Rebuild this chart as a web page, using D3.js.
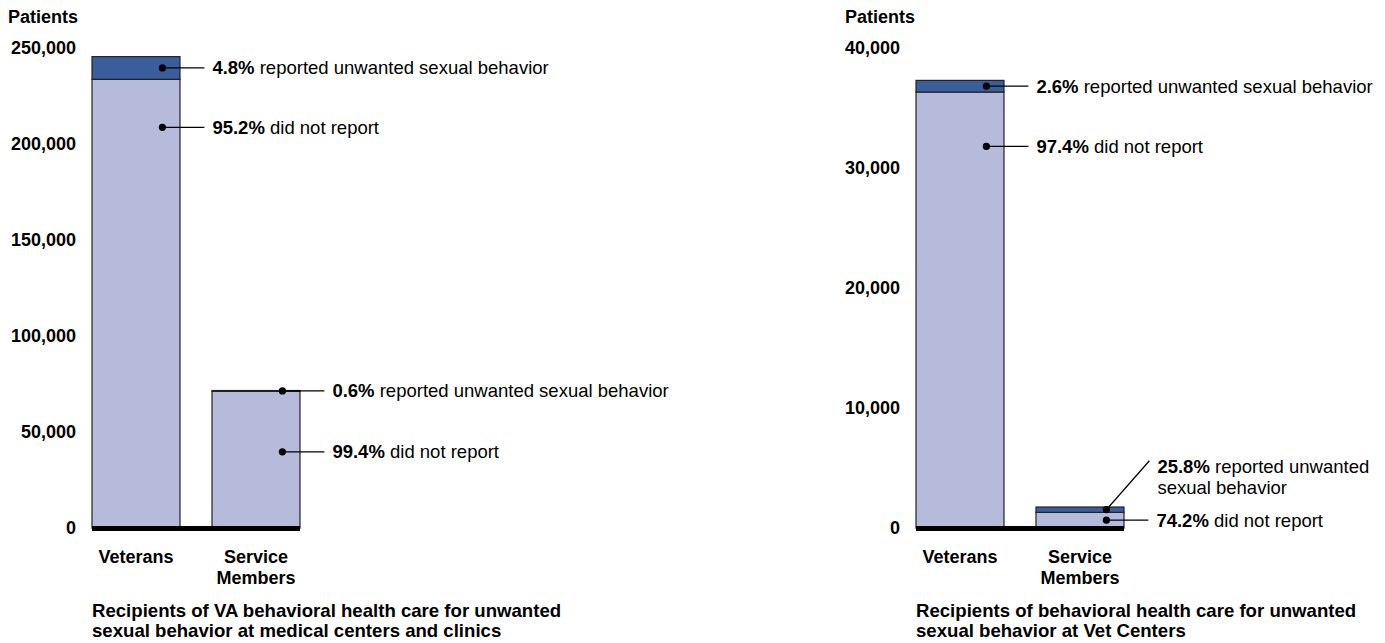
<!DOCTYPE html>
<html>
<head>
<meta charset="utf-8">
<script src="https://cdn.jsdelivr.net/npm/d3@7"></script>
<style>
  body { margin: 0; background: #fff; }
  text { font-family: Arial, "Liberation Sans", sans-serif; fill: #000; }
</style>
</head>
<body>
<script>
// categories shared by both panels
const categories = ["Veterans", "Service Members"]

// medical centers and clinics
const medReported = [11800, 430]
const medNotReported = [233700, 71170]
const medReportedPct = ["4.8%", "0.6%"]
const medNotReportedPct = ["95.2%", "99.4%"]
const medNotLabelAt = [208700, 39700]
const medTicks = [0, 50000, 100000, 150000, 200000, 250000]
const medTitle = ["Recipients of VA behavioral health care for unwanted",
                  "sexual behavior at medical centers and clinics"]

// vet centers
const vcReported = [970, 450]
const vcNotReported = [36330, 1300]
const vcReportedPct = ["2.6%", "25.8%"]
const vcNotReportedPct = ["97.4%", "74.2%"]
const vcNotLabelAt = [31800, 650]
const vcTicks = [0, 10000, 20000, 30000, 40000]
const vcTitle = ["Recipients of behavioral health care for unwanted",
                 "sexual behavior at Vet Centers"]

const DARK = "#3a5e9c"
const LIGHT = "#b7bbdb"

const svg = d3.select("body").append("svg")
  .attr("width", 1385).attr("height", 643)

class StackPanel {
  constructor(opts) {
    this.o = opts
    this.g = svg.append("g")
    this.createScale()
    this.createAxes()
    this.draw()
    this.annotate()
  }

  createScale() {
    this.scaleX = d3.scaleBand().domain(categories)
      .range([this.o.left, this.o.left + 208]).paddingInner(32 / 120).paddingOuter(0)
    this.scaleY = d3.scaleLinear().domain([0, d3.max(this.o.ticks)]).range([528, 48])
  }

  createAxes() {
    var axis = this.g.append("g")
      .attr("transform", "translate(" + (this.o.left - 16) + ",0)")
      .call(d3.axisLeft(this.scaleY).tickValues(this.o.ticks).tickSize(0).tickPadding(0)
        .tickFormat(d3.format(",")))
    axis.select(".domain").remove()
    axis.selectAll("text")
      .attr("font-family", "Arial, 'Liberation Sans', sans-serif")
      .attr("font-size", 18).attr("font-weight", "bold").attr("fill", "#000")

    this.g.append("text")
      .attr("x", this.o.unitX).attr("y", 17).attr("dy", "0.35em")
      .attr("font-size", 18).attr("font-weight", "bold")
      .text("Patients")

    var that = this
    this.g.selectAll(".xlab").data(categories).enter().append("text")
      .attr("class", "xlab")
      .attr("text-anchor", "middle")
      .attr("font-size", 18).attr("font-weight", "bold")
      .each(function(d) {
        var words = d.split(" ")
        var t = d3.select(this)
        words.forEach((w, i) => {
          t.append("tspan")
            .attr("x", that.scaleX(d) + that.scaleX.bandwidth() / 2)
            .attr("y", 557 + i * 21).attr("dy", "0.35em").text(w)
        })
      })

    var title = this.g.append("text").attr("font-size", 18.6).attr("font-weight", "bold")
    this.o.title.forEach((line, i) => {
      title.append("tspan").attr("x", this.o.left).attr("y", 610 + i * 20)
        .attr("dy", "0.35em").text(line)
    })
  }

  draw() {
    var that = this
    var rows = categories.map((c, i) => ({
      name: c, rep: this.o.reported[i], not: this.o.notReported[i]
    }))

    this.g.selectAll(".not").data(rows).enter().append("rect")
      .attr("class", "not")
      .attr("x", d => that.scaleX(d.name))
      .attr("width", that.scaleX.bandwidth())
      .attr("y", d => that.scaleY(d.not))
      .attr("height", d => that.scaleY(0) - that.scaleY(d.not))
      .attr("fill", LIGHT).attr("stroke", "#222").attr("stroke-width", 1.2)

    this.g.selectAll(".rep").data(rows).enter().append("rect")
      .attr("class", "rep")
      .attr("x", d => that.scaleX(d.name))
      .attr("width", that.scaleX.bandwidth())
      .attr("y", d => that.scaleY(d.not + d.rep))
      .attr("height", d => that.scaleY(d.not) - that.scaleY(d.not + d.rep))
      .attr("fill", DARK).attr("stroke", "#222").attr("stroke-width", 1.2)

    // heavy baseline
    this.g.append("line")
      .attr("x1", this.scaleX.range()[0]).attr("x2", this.scaleX.range()[1])
      .attr("y1", this.scaleY(0) + 0.5).attr("y2", this.scaleY(0) + 0.5)
      .attr("stroke", "#000").attr("stroke-width", 5)
  }

  callout(cx, cy, tx, ty, pct, lines) {
    this.g.append("line")
      .attr("x1", cx).attr("y1", cy).attr("x2", tx - 8).attr("y2", ty - (lines.length > 1 ? 6 : 0))
      .attr("stroke", "#000").attr("stroke-width", 1.3)
    this.g.append("circle").attr("cx", cx).attr("cy", cy).attr("r", 3.6).attr("fill", "#000")
    var t = this.g.append("text").attr("font-size", 18.5)
    lines.forEach((line, i) => {
      var ts = t.append("tspan").attr("x", tx).attr("y", ty + i * 21).attr("dy", "0.35em")
      if (i === 0) {
        ts.append("tspan").attr("font-weight", "bold").text(pct)
        ts.append("tspan").text(" " + line)
      } else {
        ts.text(line)
      }
    })
  }

  annotate() {
    categories.forEach((c, i) => {
      var cx = this.scaleX(c) + this.scaleX.bandwidth() * 0.8
      var rep = this.o.reported[i], not = this.o.notReported[i]
      var ry = this.scaleY(not + rep / 2)
      var ny = this.scaleY(this.o.notLabelAt[i])
      if (this.o.liftReported && i === 1) {
        this.callout(cx, ry, cx + 51, ry - 43, this.o.reportedPct[i],
          ["reported unwanted", "sexual behavior"])
      } else {
        this.callout(cx, ry, cx + 50, ry, this.o.reportedPct[i], ["reported unwanted sexual behavior"])
      }
      this.callout(cx, ny, cx + 50, ny, this.o.notReportedPct[i], ["did not report"])
    })
  }
}

new StackPanel({
  left: 92, unitX: 8, ticks: medTicks, reported: medReported, notReported: medNotReported,
  reportedPct: medReportedPct, notReportedPct: medNotReportedPct,
  notLabelAt: medNotLabelAt, title: medTitle
})
new StackPanel({
  left: 916, unitX: 845, ticks: vcTicks, reported: vcReported, notReported: vcNotReported,
  reportedPct: vcReportedPct, notReportedPct: vcNotReportedPct,
  notLabelAt: vcNotLabelAt, title: vcTitle, liftReported: true
})
</script>
</body>
</html>
